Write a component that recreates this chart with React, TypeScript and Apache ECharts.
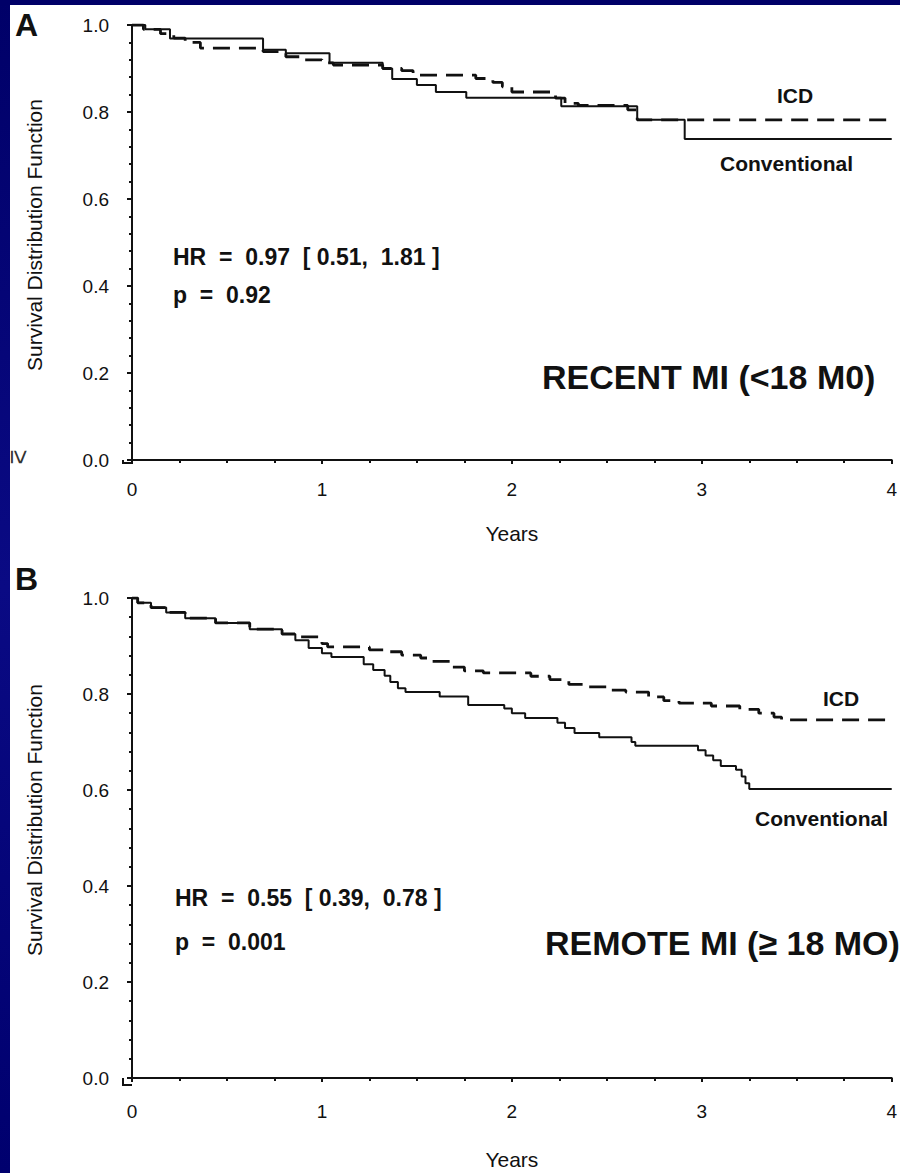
import { useEffect, useRef } from "react";
import * as echarts from "echarts";

// Survival curves: [years, survival] at each step of the Kaplan-Meier estimate.
const recentIcd: [number, number][] = [
  [0, 1], [0.06, 0.99], [0.15, 0.98], [0.22, 0.97], [0.28, 0.96], [0.36, 0.947],
  [0.69, 0.939], [0.81, 0.927], [0.9, 0.92], [1.0, 0.913], [1.06, 0.908], [1.32, 0.9],
  [1.42, 0.895], [1.48, 0.885], [1.81, 0.877], [1.9, 0.868], [1.95, 0.858], [2.0, 0.846],
  [2.23, 0.832], [2.28, 0.82], [2.35, 0.815], [2.61, 0.805], [2.66, 0.782], [4, 0.782],
];
const recentConventional: [number, number][] = [
  [0, 1], [0.07, 0.99], [0.2, 0.969], [0.69, 0.943], [0.81, 0.935], [1.04, 0.913],
  [1.32, 0.9], [1.37, 0.876], [1.5, 0.862], [1.6, 0.846], [1.76, 0.833], [2.26, 0.813],
  [2.66, 0.782], [2.91, 0.738], [4, 0.738],
];
const remoteIcd: [number, number][] = [
  [0, 1], [0.03, 0.99], [0.1, 0.98], [0.18, 0.97], [0.28, 0.958], [0.44, 0.948],
  [0.62, 0.935], [0.79, 0.925], [0.88, 0.919], [1.0, 0.905], [1.03, 0.898], [1.25, 0.892],
  [1.33, 0.888], [1.42, 0.881], [1.52, 0.875], [1.57, 0.868], [1.68, 0.856], [1.75, 0.848],
  [1.85, 0.844], [2.1, 0.837], [2.2, 0.83], [2.3, 0.82], [2.38, 0.815], [2.5, 0.808],
  [2.6, 0.804], [2.72, 0.794], [2.8, 0.786], [2.88, 0.781], [3.05, 0.775], [3.2, 0.768],
  [3.3, 0.76], [3.38, 0.752], [3.42, 0.746], [4, 0.746],
];
const remoteConventional: [number, number][] = [
  [0, 1], [0.03, 0.99], [0.1, 0.98], [0.18, 0.97], [0.28, 0.958], [0.44, 0.948],
  [0.62, 0.935], [0.79, 0.925], [0.86, 0.912], [0.93, 0.896], [1.0, 0.885], [1.05, 0.877],
  [1.22, 0.862], [1.27, 0.85], [1.33, 0.838], [1.36, 0.825], [1.4, 0.812], [1.44, 0.804],
  [1.62, 0.795], [1.77, 0.777], [1.96, 0.77], [2.0, 0.76], [2.07, 0.75], [2.24, 0.74],
  [2.28, 0.729], [2.33, 0.719], [2.46, 0.71], [2.63, 0.7], [2.65, 0.692], [2.98, 0.683],
  [3.02, 0.672], [3.06, 0.662], [3.1, 0.65], [3.18, 0.642], [3.21, 0.628], [3.23, 0.614],
  [3.25, 0.602], [4, 0.602],
];

const yearRange = [0, 4];
const survivalRange = [0, 1];

const panelLetters = ["A", "B"];
const panelTitles = ["RECENT MI (<18 M0)", "REMOTE MI (\u2265 18 MO)"];
const hazardLines = ["HR  =  0.97  [ 0.51,  1.81 ]", "HR  =  0.55  [ 0.39,  0.78 ]"];
const pLines = ["p  =  0.92", "p  =  0.001"];
const groupNames = ["ICD", "Conventional"];
const yTitle = "Survival Distribution Function";
const xTitle = "Years";

const FONT = "'Liberation Sans', Arial, Helvetica, sans-serif";
const INK = "#111";

// Plot frames (pixels inside the 900x1173 canvas)
const frames = [
  { left: 132, top: 25, width: 762, height: 435, xOffset: 3, nameGap: 60 },
  { left: 132, top: 598, width: 762, height: 480, xOffset: 7, nameGap: 64 },
];
const Y_OFFSET = 9;

export default function App() {
  const ref = useRef<HTMLDivElement>(null);

  useEffect(() => {
    if (!ref.current) return;
    const chart = echarts.init(ref.current, undefined, { renderer: "svg" });

    const xAxes = frames.map((f, i) => ({
      gridIndex: i,
      type: "value" as const,
      min: yearRange[0],
      max: yearRange[1],
      interval: 1,
      offset: f.xOffset,
      axisLine: { show: true, lineStyle: { color: INK, width: 2 } },
      axisTick: { show: true, length: 4, lineStyle: { color: INK, width: 2 } },
      minorTick: { show: true, splitNumber: 4, length: 3, lineStyle: { color: INK, width: 2 } },
      splitLine: { show: false },
      axisLabel: { margin: 17, fontSize: 19, color: INK, fontFamily: FONT },
      name: xTitle,
      nameLocation: "middle" as const,
      nameGap: f.nameGap,
      nameTextStyle: { fontSize: 21, color: INK, fontFamily: FONT },
    }));

    const yAxes = frames.map((_, i) => ({
      gridIndex: i,
      type: "value" as const,
      min: survivalRange[0],
      max: survivalRange[1],
      interval: 0.2,
      offset: Y_OFFSET,
      axisLine: { show: true, lineStyle: { color: INK, width: 2 } },
      axisTick: { show: true, length: 5, lineStyle: { color: INK, width: 2 } },
      minorTick: { show: true, splitNumber: 5, length: 3, lineStyle: { color: INK, width: 2 } },
      splitLine: { show: false },
      axisLabel: {
        margin: 14,
        fontSize: 19,
        color: INK,
        fontFamily: FONT,
        formatter: (v: number) => v.toFixed(1),
      },
    }));

    const line = (data: [number, number][], idx: number, dashed: boolean) => ({
      type: "line" as const,
      xAxisIndex: idx,
      yAxisIndex: idx,
      data,
      step: "end" as const,
      showSymbol: false,
      silent: true,
      lineStyle: dashed
        ? { color: INK, width: 2.8, type: [17, 9] }
        : { color: INK, width: 2 },
    });

    const text = (
      str: string,
      x: number,
      y: number,
      size: number,
      bold: boolean,
      extra: Record<string, unknown> = {}
    ) => ({
      type: "text" as const,
      x,
      y,
      silent: true,
      ...extra,
      style: {
        text: str,
        fontSize: size,
        fontWeight: bold ? "bold" : "normal",
        fontFamily: FONT,
        fill: INK,
        align: "left",
        verticalAlign: "middle",
        ...((extra.style as object) || {}),
      },
    });

    const graphics: any[] = [
      // navy slide border
      {
        type: "rect",
        shape: { x: 0, y: 0, width: 10, height: 1173 },
        style: {
          fill: new echarts.graphic.LinearGradient(0, 0, 0, 1, [
            { offset: 0, color: "#000068" },
            { offset: 0.5, color: "#0a0a84" },
            { offset: 1, color: "#00006e" },
          ]),
        },
        silent: true,
      },
      { type: "rect", shape: { x: 0, y: 0, width: 900, height: 5 }, style: { fill: "#000068" }, silent: true },
    ];

    frames.forEach((f) => {
      const axisX = f.left - Y_OFFSET;
      const axisY = f.top + f.height + f.xOffset;
      // corner joining the offset axes
      graphics.push({
        type: "polyline",
        shape: { points: [[axisX, f.top + f.height], [axisX, axisY], [f.left, axisY]] },
        style: { stroke: INK, lineWidth: 2, fill: "none" },
        silent: true,
      });
    });

    // Panel A annotations
    graphics.push(
      text(panelLetters[0], 15, 25, 32, true),
      text(hazardLines[0], 173, 257, 23, true),
      text(pLines[0], 173, 295, 23, true),
      text(panelTitles[0], 542, 377, 34, true),
      text(groupNames[0], 777, 95, 21, true),
      text(groupNames[1], 720, 163, 21, true),
      text(yTitle, 34, 235, 21, false, { rotation: Math.PI / 2, style: { align: "center" } }),
      text("\u2265", 20, 457, 26, false, { rotation: -Math.PI / 2, style: { align: "center", fill: "#333" } })
    );
    // Panel B annotations
    graphics.push(
      text(panelLetters[1], 15, 579, 32, true),
      text(hazardLines[1], 175, 898, 23, true),
      text(pLines[1], 175, 942, 23, true),
      text(panelTitles[1], 545, 943, 34, true),
      text(groupNames[0], 823, 698, 21, true),
      text(groupNames[1], 755, 818, 21, true),
      text(yTitle, 34, 820, 21, false, { rotation: Math.PI / 2, style: { align: "center" } })
    );

    chart.setOption({
      animation: false,
      backgroundColor: "#ffffff",
      grid: frames.map((f) => ({ left: f.left, top: f.top, width: f.width, height: f.height })),
      xAxis: xAxes,
      yAxis: yAxes,
      series: [
        line(recentIcd, 0, true),
        line(recentConventional, 0, false),
        line(remoteIcd, 1, true),
        line(remoteConventional, 1, false),
      ],
      graphic: graphics,
    });

    return () => chart.dispose();
  }, []);

  return (
    <div
      ref={ref}
      style={{ position: "fixed", left: 0, top: 0, width: 900, height: 1173, background: "#fff" }}
    />
  );
}
